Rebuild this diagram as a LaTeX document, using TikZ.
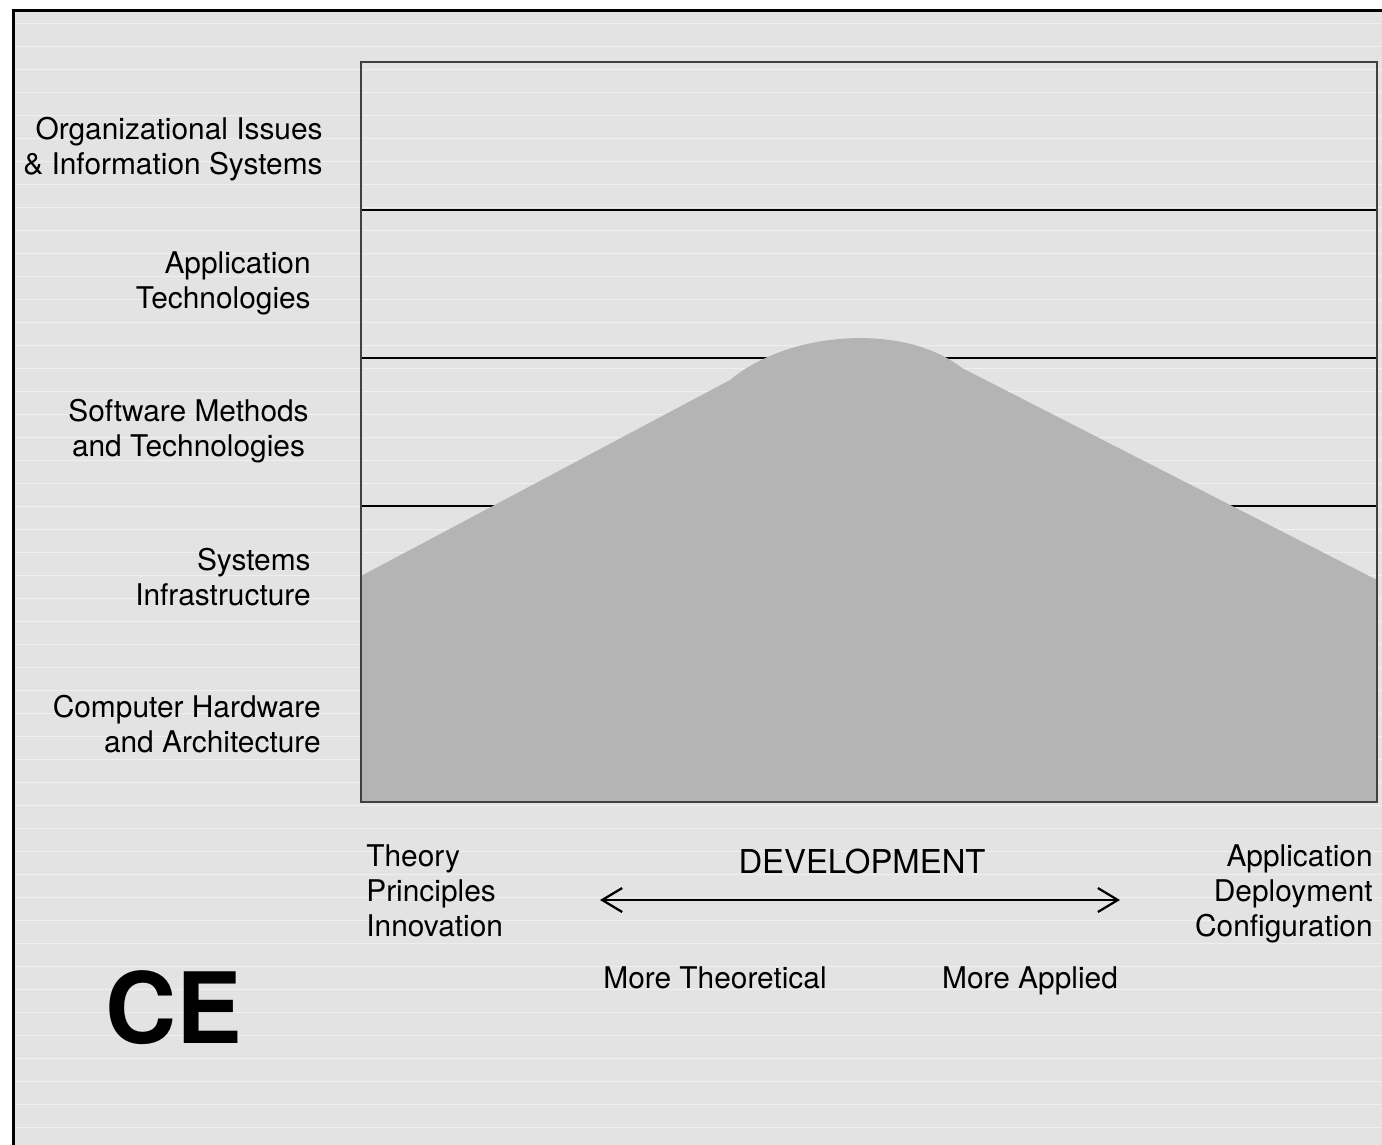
\documentclass[tikz,border=0pt]{standalone}
\usepackage{fontspec}
\setmainfont{TeX Gyre Heros}
\usetikzlibrary{arrows.meta}

\definecolor{paper}{RGB}{227,227,227}
\definecolor{hill}{RGB}{180,180,180}

\tikzset{
  rowlabel/.style={align=right, anchor=east, inner sep=0pt, font=\fontsize{17}{19.9}\selectfont},
  axislabel/.style={inner sep=0pt, font=\fontsize{17}{19.9}\selectfont},
  gridline/.style={line width=0.4mm, black},
}

\begin{document}
\begin{tikzpicture}[x=0.2mm, y=-0.2mm]
            \useasboundingbox (0,0) rectangle (1382,1144);
            \begin{scope}
            \clip (0,0) rectangle (1382,1144);
            \fill[paper] (13,10) rectangle (1400,1160);
            \foreach \y in {23,46,...,1144} \draw[white, opacity=0.45, line width=0.2mm] (15,\y) -- (1382,\y);
            \draw[line width=0.6mm] (13,1160) -- (13,10) -- (1400,10);
            \end{scope}
            % the five layers
            \foreach \y in {210,358,506,654} \draw[gridline] (361,\y) -- (1377,\y);
            \fill[hill] (361,576) -- (730,380) .. controls (790,330) and (905,323) .. (962,368) -- (1377,580) -- (1377,802) -- (361,802) -- cycle;
            \draw[line width=0.4mm, black!75] (361,62) rectangle (1377,802);
            \node[rowlabel] (org) at (323,149) {Organizational Issues\\\& Information Systems};
            \node[rowlabel] (app) at (311,283) {Application\\Technologies};
            \node[rowlabel, align=center] (soft) at (309,431) {Software Methods\\and Technologies};
            \node[rowlabel] (sys) at (311,577) {Systems\\Infrastructure};
            \node[rowlabel] (hw) at (321,724) {Computer Hardware\\and Architecture};
            % axis
            \node[axislabel, align=left, anchor=west] (theory) at (366,891) {Theory\\Principles\\Innovation};
            \node[axislabel, align=right, anchor=east] (applied) at (1373,894) {Application\\Deployment\\Configuration};
            \node[axislabel, font=\fontsize{18.7}{22}\selectfont] (dev) at (862,862) {DEVELOPMENT};
            \coordinate (left) at (600,900);
            \coordinate (right) at (1120,900);
            \draw[line width=0.45mm, {Straight Barb[length=4mm,width=4.8mm]}-{Straight Barb[length=4mm,width=4.8mm]}] (left) -- (right);
            \node[axislabel] (moretheo) at (715,978) {More Theoretical};
            \node[axislabel] (moreappl) at (1030,981) {More Applied};
            \node[inner sep=0pt, font=\fontsize{56}{60}\selectfont\bfseries] (ce) at (174,1008) {CE};
        \end{tikzpicture}
\end{document}
